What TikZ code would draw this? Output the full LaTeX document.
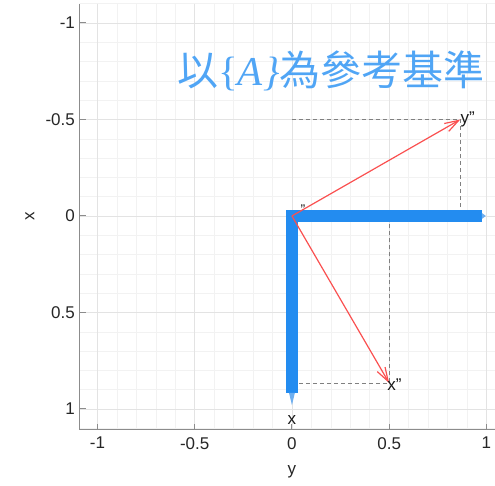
\documentclass[tikz,border=0pt]{standalone}
\usepackage{fontspec}
\setmainfont{Liberation Sans}
\newfontfamily\cjk{Noto Sans CJK TC}
\newfontfamily\serifit{Liberation Serif}
\usetikzlibrary{arrows.meta}
\definecolor{framebl}{RGB}{35,140,240}
\definecolor{tipbl}{RGB}{110,175,240}
\definecolor{titlebl}{RGB}{80,165,245}
\definecolor{vecred}{RGB}{250,80,80}
\definecolor{ticktext}{RGB}{38,38,38}

\begin{document}
\begin{tikzpicture}[
  x=194.5pt, y=-193pt,
  minorgrid/.style={draw=black!5, line width=0.5pt},
  majorgrid/.style={draw=black!11, line width=0.6pt},
  axisline/.style={draw=black!45, line width=1pt},
  ticklabel/.style={text=ticktext, font=\fontsize{17}{17}\selectfont, inner sep=0pt},
  projline/.style={draw=black!50, dash pattern=on 4pt off 3pt, line width=0.7pt},
  vecarrow/.style={draw=vecred, line width=1.2pt, -{Straight Barb[length=14pt,width=9pt]}},
  framebar/.style={draw=framebl, line width=12pt},
  veclabel/.style={text=black!90, font=\fontsize{17}{17}\selectfont, inner sep=0pt}
]
\useasboundingbox (-1.501,-1.119) rectangle (1.044,1.399);

\begin{scope}
\clip (-1.09,-1.1) rectangle (1.044,1.109);
\foreach \i in {-11,...,11} {
  \draw[minorgrid] (\i/10,-1.1) -- (\i/10,1.11);
  \draw[minorgrid] (-1.1,\i/10) -- (1.1,\i/10);
}
\foreach \v in {-1,-0.5,0,0.5,1} {
  \draw[majorgrid] (\v,-1.1) -- (\v,1.11);
  \draw[majorgrid] (-1.1,\v) -- (1.1,\v);
}
\end{scope}

\draw[axisline] (-1.09,-1.1) -- (-1.09,1.109) -- (1.044,1.109);
\foreach \v/\n in {-1/a,-0.5/b,0/c,0.5/d,1/e} {
  \draw[axisline] (-1.09,\v) -- ++(0.03,0);
  \draw[axisline] (\v,1.109) -- ++(0,-0.03);
  \node[ticklabel, anchor=east] (xt\n) at (-1.115,\v) {\v};
  \node[ticklabel, anchor=north] (yt\n) at (\v,1.145) {\v};
}
\node[ticklabel, rotate=90] (xname) at (-1.347,0) {x};
\node[ticklabel] (yname) at (0,1.326) {y};

\node[text=titlebl, inner sep=0pt, font=\fontsize{41}{41}\selectfont] (title) at (0.2,-0.75)
  {\cjk 以{\serifit\{\itshape A\}}為參考基準};

\coordinate (O) at (0,0);
\coordinate (xe) at (0,0.917);
\coordinate (ye) at (0.977,0);
\coordinate (yb) at (0.866,-0.5);
\coordinate (xb) at (0.5,0.866);
\coordinate (yb0) at (0,-0.5);
\coordinate (yb1) at (0.866,0);
\coordinate (xb0) at (0,0.866);
\coordinate (xb1) at (0.5,0);

\draw[projline] (yb0) -- (yb) -- (yb1);
\draw[projline] (xb0) -- (xb) -- (xb1);

\draw[framebar] (ye) -- (O) -- (xe);
\fill[tipbl] (-0.015,0.917) -- (0,0.98) -- (0.015,0.917) -- cycle;
\fill[tipbl] (0.977,-0.015) -- (0.997,0) -- (0.977,0.015) -- cycle;

\draw[vecarrow] (O) -- (yb);
\draw[vecarrow] (O) -- (xb);

\node[veclabel, anchor=west] (ylab) at (yb) {y"};
\node[veclabel, anchor=west, xshift=-2pt, yshift=-2pt] (xlab) at (xb) {x"};
\node[veclabel] (xaxlab) at (0,1.057) {x};
\node[veclabel, font=\fontsize{14}{14}\selectfont] (olab) at (0.057,-0.03) {"};
\end{tikzpicture}
\end{document}
